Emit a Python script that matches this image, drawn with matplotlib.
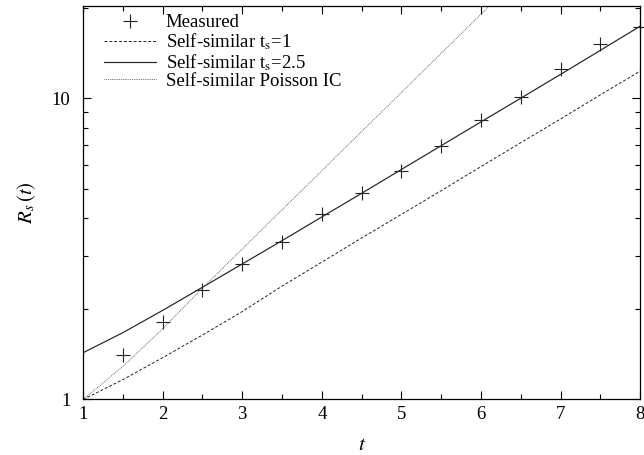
import numpy as np
import matplotlib
matplotlib.use("Agg")
import matplotlib.pyplot as plt
from matplotlib.ticker import FixedLocator, NullFormatter, FixedFormatter

plt.rcParams['font.family'] = ['Liberation Serif', 'DejaVu Serif']
plt.rcParams['mathtext.fontset'] = 'stix'

# measured radius and the three self-similar predictions
t_meas = [1.5, 2.0, 2.5, 3.0, 3.5, 4.0, 4.5, 5.0, 5.5, 6.0, 6.5, 7.0, 7.5, 8.0]
r_meas = [1.405, 1.81, 2.31, 2.81, 3.33, 4.13, 4.84, 5.74, 6.95, 8.48, 10.1, 12.5, 15.2, 17.3]

t_model = [1.0, 1.5, 2.0, 2.5, 3.0, 3.5, 4.0, 4.5, 5.0, 5.5, 6.0, 6.5, 7.0, 7.5, 8.0]
r_ts1 = [1.0, 1.164, 1.377, 1.637, 1.959, 2.38, 2.86, 3.44, 4.12, 4.94, 5.94, 7.13, 8.55, 10.28, 12.33]
r_ts25 = [1.43, 1.667, 1.977, 2.36, 2.82, 3.37, 4.04, 4.84, 5.81, 6.97, 8.36, 10.02, 12.02, 14.45, 17.38]

t_poisson = [1.0, 1.5, 2.0, 2.5, 3.0, 3.5, 4.0, 4.5, 5.0, 5.5, 6.0, 6.5]
r_poisson = [1.0, 1.288, 1.718, 2.344, 3.162, 4.266, 5.754, 7.762, 10.47, 14.13, 19.05, 25.7]

fig = plt.figure(figsize=(6.44, 4.55), dpi=100)
ax = fig.add_axes([0.129, 0.122, 0.865, 0.865])

ax.plot(t_meas, r_meas, linestyle='none', marker='+', markersize=10,
        markeredgewidth=0.8, color='#222222', label='Measured', clip_on=False)
ax.plot(t_model, r_ts1, linestyle=(0, (3, 2)), lw=0.7, color='#222222',
        label=r'Self-similar t$_\mathrm{s}$=1')
ax.plot(t_model, r_ts25, linestyle='-', lw=0.85, color='#222222',
        label=r'Self-similar t$_\mathrm{s}$=2.5')
ax.plot(t_poisson, r_poisson, linestyle=(0, (1, 1.2)), lw=0.6, color='#444444',
        label='Self-similar Poisson IC')

ax.set_yscale('log')
ax.set_xlim(1, 8)
ax.set_ylim(1, 20.3)

ax.xaxis.set_major_locator(FixedLocator([1, 2, 3, 4, 5, 6, 7, 8]))
ax.xaxis.set_minor_locator(FixedLocator([1.5, 2.5, 3.5, 4.5, 5.5, 6.5, 7.5]))
ax.yaxis.set_major_locator(FixedLocator([1, 10]))
ax.yaxis.set_major_formatter(FixedFormatter(['1', '10']))
ax.yaxis.set_minor_locator(FixedLocator([2, 3, 4, 5, 6, 7, 8, 9, 20]))
ax.yaxis.set_minor_formatter(NullFormatter())

ax.tick_params(which='both', direction='in', top=True, right=True,
               labelsize=13.5, width=0.8)
ax.tick_params(which='major', length=6)
ax.tick_params(which='minor', length=3.5)
ax.tick_params(axis='x', pad=5)
ax.tick_params(axis='y', pad=9)
for s in ax.spines.values():
    s.set_linewidth(0.9)

ax.set_xlabel(r'$t$', fontsize=15, labelpad=9)
ax.set_ylabel(r'$R_s\,(t)$', fontsize=15, labelpad=10)

ax.legend(loc='upper left', frameon=False, fontsize=13.5, handlelength=2.75,
          handletextpad=0.55, labelspacing=0.0, borderaxespad=0.25,
          borderpad=0.2, markerfirst=True, bbox_to_anchor=(0.0225, 1.0))

fig.savefig('out.png', dpi=100)
